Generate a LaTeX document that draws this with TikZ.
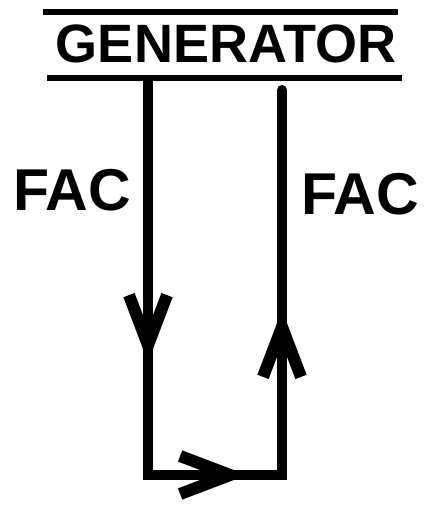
\documentclass[tikz,border=0pt]{standalone}
\usepackage{fontspec}
\setmainfont{Liberation Sans}
\usetikzlibrary{arrows.meta}

\begin{document}
\begin{tikzpicture}[x=1pt, y=-1pt,
    wire/.style={line width=10pt, line join=miter},
    bar/.style={line width=6.5pt},
    flow/.style={wire, -{Straight Barb[length=50pt, width=38pt, line width=12pt, line cap=butt]}},
    title/.style={font=\fontsize{54}{60}\selectfont\bfseries, inner sep=0pt},
    label/.style={font=\fontsize{59}{66}\selectfont\bfseries, inner sep=0pt}]

    \useasboundingbox (0,0) rectangle (423,505);

    % Generator with its bars
    \node[title] (gen) at (226,44) {GENERATOR};
    \coordinate (topL) at (43,12);
    \coordinate (topR) at (398,12);
    \coordinate (barL) at (47,78);
    \coordinate (barR) at (402,78);
    \draw[bar] (topL) -- (topR);
    \draw[bar] (barL) -- (barR);

    % Loop corners
    \coordinate (aTop) at (148,78);
    \coordinate (aBot) at (148,475);
    \coordinate (bBot) at (282,475);
    \coordinate (bTop) at (282,90);

    % Arrow points
    \coordinate (aTip) at (148,362);
    \coordinate (cTip) at (247,475);
    \coordinate (bTip) at (282,310);

    % Labels
    \node[label] (facL) at (72,190) {FAC};
    \node[label] (facR) at (360,194) {FAC};

    % Wires
    \draw[wire] (aTop) -- (aBot) -- (bBot) -- (bTop);
    \draw[wire, line cap=round] (bTop) -- ([yshift=-20pt]bTop);
    \draw[flow] (aTop) -- (aTip);
    \draw[flow] (aBot) -- (cTip);
    \draw[flow] (bBot) -- (bTip);

\end{tikzpicture}
\end{document}
